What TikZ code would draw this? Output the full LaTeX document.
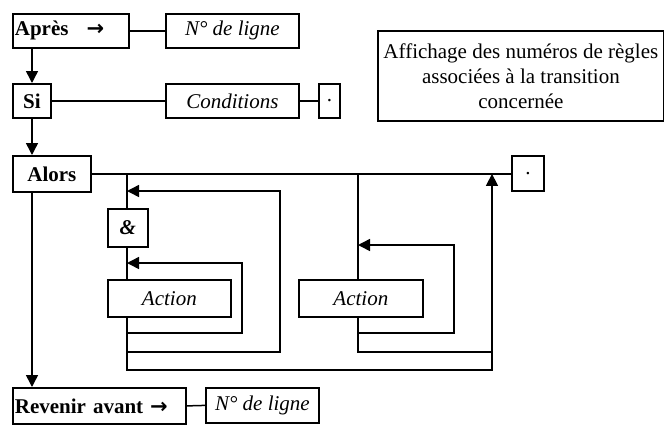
\documentclass[tikz,border=0pt]{standalone}
\usepackage{fontspec}
\setmainfont{Liberation Serif}
\newfontfamily\arrfont{DejaVu Sans}
\newcommand{\rarr}{{\arrfont\bfseries →}}
\usetikzlibrary{arrows.meta}
\begin{document}
\begin{tikzpicture}[x=1pt,y=-1pt,
  box/.style={draw,line width=1.8pt,inner sep=0pt,anchor=north west,font=\fontsize{21}{25}\selectfont},
  sz/.style 2 args={minimum width=#1,minimum height=#2},
  lbox/.style={text width=#1,align=left},
  conn/.style={line width=1.5pt},
  arr/.style={conn,-{Triangle[length=12pt,width=12pt]}},
]
\useasboundingbox (0,0) rectangle (664,424);
% boxes
\node[box,sz={116}{34},lbox=112] (apres) at (12,13) {\bfseries Après\hspace{18pt}\rarr};
\node[box,sz={133}{34}] (nl1) at (165,13) {\itshape N° de ligne};
\node[box,sz={38}{34}] (si) at (12,83) {\bfseries Si};
\node[box,sz={133}{34}] (cond) at (165,83) {\itshape Conditions};
\node[box,sz={21}{34}] (dot1) at (318,83) {.};
\node[box,sz={286}{90},align=center] (info) at (377,30) {Affichage des numéros de règles\\associées à la transition\\concernée};
\node[box,sz={78}{36}] (alors) at (12,155) {\bfseries Alors};
\node[box,sz={32}{35}] (dot2) at (511,155) {.};
\node[box,sz={40}{38}] (amp) at (107,208) {\itshape\bfseries \&};
\node[box,sz={123}{37}] (act1) at (107,279) {\itshape Action};
\node[box,sz={124}{37}] (act2) at (298,279) {\itshape Action};
\node[box,sz={173}{36},lbox=169] (rev) at (12,387) {\bfseries Revenir avant \rarr};
\node[box,sz={113}{35}] (nl2) at (205,387) {\itshape N° de ligne};
% coordinates
\coordinate (cx) at (32,0);
\coordinate (bx) at (127,0);
\coordinate (b2) at (358,0);
\coordinate (rx) at (492,0);
\coordinate (l1) at (242,0);
\coordinate (l2) at (280,0);
\coordinate (l3) at (454,0);
\coordinate (ya) at (0,263);
\coordinate (yb) at (0,191);
\coordinate (yc) at (0,245);
\coordinate (y1) at (0,333);
\coordinate (y2) at (0,352);
\coordinate (y3) at (0,370);
% horizontal links
\draw[conn] (apres.east) -- (nl1.west);
\draw[conn] (si.east) -- (cond.west);
\draw[conn] (cond.east) -- (dot1.west);
\draw[conn] (alors.east) -- (alors.east -| dot2.west);
\draw[conn] (rev.east) -- (nl2.west);
% vertical arrows
\draw[arr] (cx |- apres.south) -- (cx |- si.north);
\draw[arr] (cx |- si.south) -- (cx |- alors.north);
\draw[arr] (cx |- alors.south) -- (cx |- rev.north);
% branch 1
\draw[conn] (bx |- alors.east) -- (bx |- amp.north);
\draw[conn] (bx |- amp.south) -- (bx |- act1.north);
\draw[conn] (bx |- act1.south) -- (bx |- y3) -- (rx |- y3) -- (rx |- y2) -- (b2 |- y2) -- (b2 |- act2.south);
\draw[arr] (rx |- y2) -- (rx |- alors.east);
\draw[arr] (bx |- y1) -- (l1 |- y1) -- (l1 |- ya) -- (bx |- ya);
\draw[arr] (bx |- y2) -- (l2 |- y2) -- (l2 |- yb) -- (bx |- yb);
% branch 2
\draw[conn] (b2 |- alors.east) -- (b2 |- act2.north);
\draw[arr] (b2 |- y1) -- (l3 |- y1) -- (l3 |- yc) -- (b2 |- yc);
\end{tikzpicture}
\end{document}
